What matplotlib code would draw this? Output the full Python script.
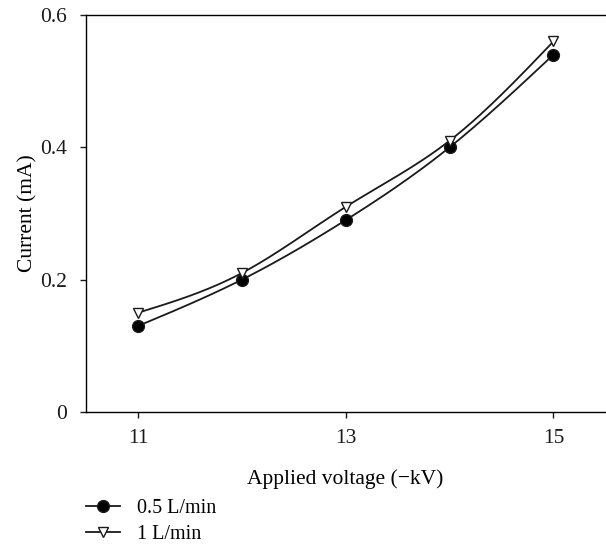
import numpy as np
import matplotlib
matplotlib.use("Agg")
import matplotlib.pyplot as plt
from matplotlib.lines import Line2D

plt.rcParams['font.family'] = ['Liberation Serif', 'DejaVu Serif']

voltage = [11, 12, 13, 14, 15]
current_05 = [0.13, 0.20, 0.29, 0.40, 0.54]
current_1 = [0.15, 0.21, 0.31, 0.41, 0.56]
x_ticks = [11, 13, 15]
y_ticks = [0, 0.2, 0.4, 0.6]
y_tick_labels = ["0", "0.2", "0.4", "0.6"]


def natural_spline(x, y, n=200):
    x = np.asarray(x, float)
    y = np.asarray(y, float)
    k = len(x)
    h = np.diff(x)
    A = np.zeros((k, k))
    b = np.zeros(k)
    A[0, 0] = A[-1, -1] = 1
    for i in range(1, k - 1):
        A[i, i - 1] = h[i - 1]
        A[i, i] = 2 * (h[i - 1] + h[i])
        A[i, i + 1] = h[i]
        b[i] = 3 * ((y[i + 1] - y[i]) / h[i] - (y[i] - y[i - 1]) / h[i - 1])
    c = np.linalg.solve(A, b)
    xs = np.linspace(x[0], x[-1], n)
    ys = np.empty_like(xs)
    for j, xv in enumerate(xs):
        i = min(np.searchsorted(x, xv, side='right') - 1, k - 2)
        dx = xv - x[i]
        bi = (y[i + 1] - y[i]) / h[i] - h[i] * (2 * c[i] + c[i + 1]) / 3
        di = (c[i + 1] - c[i]) / (3 * h[i])
        ys[j] = y[i] + bi * dx + c[i] * dx ** 2 + di * dx ** 3
    return xs, ys


FS = 15.5
fig = plt.figure(figsize=(6.06, 5.44), dpi=100)
ax = fig.add_axes([0.1419, 0.2426, 0.857, 0.7298])

for vals, mk, fc, ms in [(current_05, 'o', 'black', 8.5),
                         (current_1, 'v', 'white', 7.5)]:
    xs, ys = natural_spline(voltage, vals)
    ax.plot(xs, ys, color='#1a1a1a', lw=1.3, zorder=2)
    ax.plot(voltage, vals, ls='none', marker=mk, ms=ms, mfc=fc,
            mec='#1a1a1a', mew=1.0, zorder=3)

ax.set_xlim(10.5, 15.5)
ax.set_ylim(0, 0.6)
ax.set_xticks(x_ticks)
ax.set_xticklabels([str(t) for t in x_ticks])
ax.set_yticks(y_ticks)
ax.set_yticklabels(y_tick_labels)
ax.spines['right'].set_visible(False)
for s in ['left', 'bottom', 'top']:
    ax.spines[s].set_linewidth(1.0)
ax.tick_params(direction='out', length=4.5, width=1.0, labelsize=FS,
               colors='#1a1a1a')
ax.tick_params(axis='y', pad=9)
ax.tick_params(axis='x', pad=8)
ax.set_xlabel('Applied voltage (\u2212kV)', fontsize=FS, labelpad=15)
ax.set_ylabel('Current (mA)', fontsize=FS, labelpad=2)

handles = [
    Line2D([], [], color='#1a1a1a', lw=1.3, marker='o', ms=8.5, mfc='black',
           mec='#1a1a1a'),
    Line2D([], [], color='#1a1a1a', lw=1.3, marker='v', ms=7.5, mfc='white',
           mec='#1a1a1a'),
]
fig.legend(handles, ['0.5 L/min', '1 L/min'], loc='upper left',
           bbox_to_anchor=(0.142, 0.082), frameon=False, fontsize=14.5,
           handlelength=1.7, handletextpad=0.85, labelspacing=0.3,
           borderpad=0, borderaxespad=0)

fig.savefig('out.png', dpi=100)
